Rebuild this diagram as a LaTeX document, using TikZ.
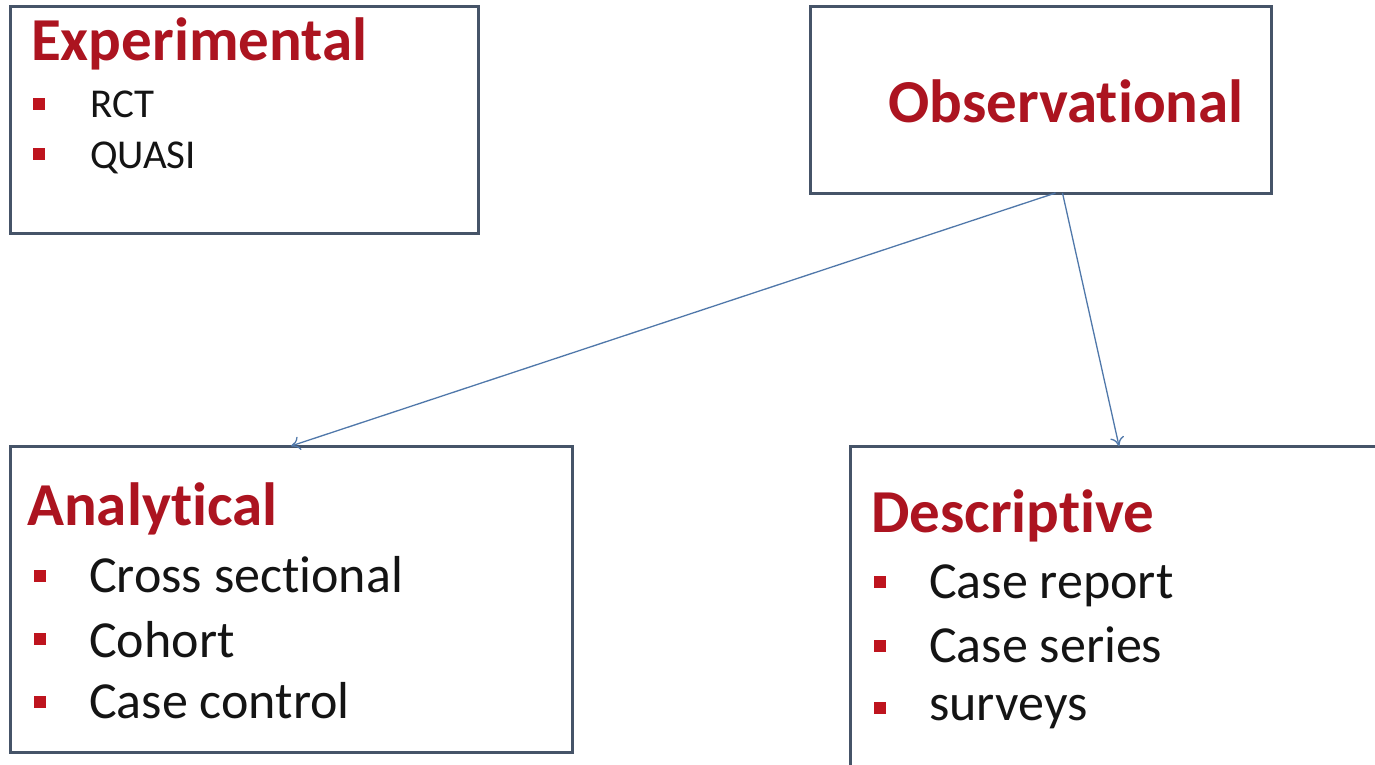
\documentclass[tikz,border=0pt]{standalone}
\usepackage{fontspec}
\setmainfont{Carlito}[Ligatures=NoCommon]
\usetikzlibrary{arrows.meta}
\definecolor{titlered}{RGB}{172,20,32}
\definecolor{bulletred}{RGB}{190,20,30}
\definecolor{boxedge}{RGB}{70,84,104}
\definecolor{connblue}{RGB}{80,120,170}
\definecolor{itemtext}{RGB}{20,20,20}
\tikzset{
  box/.style={draw=boxedge, line width=3pt, fill=white, rectangle, inner sep=0pt, outer sep=0pt},
  ttl/.style={anchor=base west, inner sep=0pt, text=titlered, font=\bfseries\fontsize{61}{66}\selectfont},
  itm/.style={anchor=base west, inner sep=0pt, text=itemtext, font=\fontsize{52}{58}\selectfont},
  smitm/.style={anchor=base west, inner sep=0pt, text=itemtext, font=\fontsize{41}{46}\selectfont},
  bul/.style={fill=bulletred, rectangle, inner sep=0pt, outer sep=0pt, minimum size=12pt},
  conn/.style={draw=connblue, line width=1.3pt, -{To[length=9pt,width=14pt]}}
}
\begin{document}
\begin{tikzpicture}[x=1pt,y=-1pt]
\useasboundingbox (0,0) rectangle (1375,764);
\fill[white] (0,0) rectangle (1375,764);
% boxes
\node[box, minimum width=468pt, minimum height=227pt] (exp) at (244,119.5) {};
\node[box, minimum width=461pt, minimum height=187pt] (obs) at (1040.5,99.5) {};
\node[box, minimum width=562pt, minimum height=306pt] (ana) at (291,599) {};
\node[box, minimum width=538pt, minimum height=334pt] (des) at (1119,613) {};
% Experimental
\node[ttl] (expt) at (31,60) {Experimental};
\node[bul] (expb1) at (38.5,104) {};
\node[bul] (expb2) at (38.5,154) {};
\node[smitm] (expi1) at (90,117) {RCT};
\node[smitm] (expi2) at (90,168) {QUASI};
% Observational
\node[anchor=base, inner sep=0pt, text=titlered, font=\bfseries\fontsize{61}{66}\selectfont] (obst) at (1066,122) {Observational};
% Analytical
\node[ttl] (anat) at (27,525) {Analytical};
\node[bul] (anab1) at (40,576) {};
\node[bul] (anab2) at (40,639) {};
\node[bul] (anab3) at (40,702) {};
\node[itm] (anai1) at (89,592) {Cross sectional};
\node[itm] (anai2) at (89,657) {Cohort};
\node[itm] (anai3) at (89,718) {Case control};
% Descriptive
\node[ttl] (dest) at (871,532) {Descriptive};
\node[bul] (desb1) at (879.5,582) {};
\node[bul] (desb2) at (879.5,646) {};
\node[bul] (desb3) at (879.5,708) {};
\node[itm] (desi1) at (929,598) {Case report};
\node[itm] (desi2) at (929,662) {Case series};
\node[itm] (desi3) at (929,720) {surveys};
% connectors
\draw[conn] ([xshift=15pt]obs.south) -- (ana.north);
\draw[conn] ([xshift=22pt]obs.south) -- (des.north);
\end{tikzpicture}
\end{document}
